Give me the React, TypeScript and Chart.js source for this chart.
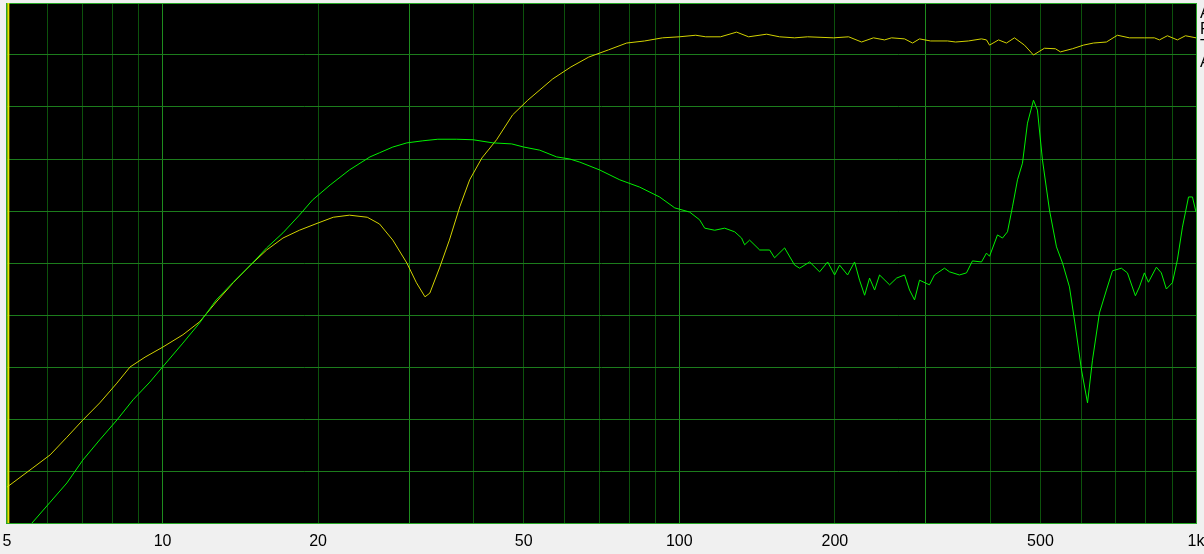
import React, { useEffect, useRef } from "react";
import { Chart, registerables } from "chart.js";

Chart.register(...registerables);

const gridFreqs = [5, 6, 7, 8, 9, 10, 20, 30, 40, 50, 60, 70, 80, 90, 100, 200, 300, 400, 500, 600, 700, 800, 900, 1000];
const tickLabels: Record<number, string> = { 5: "5", 10: "10", 20: "20", 50: "50", 100: "100", 200: "200", 500: "500", 1000: "1k" };
const brightGrid = [10, 30, 100, 300];
const legendLabels = ["A", "F", "T", "A"];
const markerFreq = 5.03;

const yellowFreq = [5.0, 5.61, 6.06, 6.53, 7.01, 7.56, 8.16, 8.65, 9.25, 10.0, 10.95, 11.8, 12.7, 13.7, 14.8, 15.9, 17.1, 18.4, 20.0, 21.4, 23.0, 24.9, 26.3, 27.9, 29.7, 31.0, 32.2, 32.9, 34.4, 35.9, 37.6, 39.3, 41.5, 44.3, 47.6, 50.9, 56.9, 61.7, 66.8, 73.0, 79.1, 85.7, 92.8, 100, 107.6, 112.5, 120.2, 129.1, 136.2, 147.6, 156.3, 167.2, 177.2, 198.9, 212.7, 225.3, 237.6, 249.6, 257.5, 272.9, 282.8, 291.7, 306.3, 330.5, 342.6, 362.8, 384.5, 393.1, 398.5, 414.8, 429.8, 445.3, 465.6, 484.7, 508.9, 534.6, 546.6, 576.6, 605.7, 633.2, 670.9, 704.6, 743.2, 794.5, 830.9, 849.6, 880.3, 920.4, 954.1, 1000];
const yellowLevel = [6.9, 10.6, 13.1, 16.5, 19.8, 23.1, 26.9, 30.0, 31.9, 33.8, 36.2, 38.7, 42.5, 46.2, 49.6, 52.5, 54.8, 56.3, 57.7, 58.8, 59.2, 58.8, 57.5, 54.4, 50.0, 46.2, 43.5, 44.2, 49.2, 54.4, 60.8, 66.0, 70.2, 73.7, 78.5, 81.3, 85.4, 87.7, 89.6, 91.0, 92.3, 92.7, 93.3, 93.5, 93.8, 93.5, 93.5, 94.4, 93.5, 94.0, 93.5, 93.3, 93.5, 93.3, 93.5, 92.5, 93.3, 92.9, 93.3, 93.1, 92.3, 93.1, 92.7, 92.7, 92.5, 92.7, 93.1, 92.9, 91.9, 92.9, 92.3, 93.3, 91.9, 90.0, 91.3, 91.2, 90.6, 91.2, 91.9, 92.3, 92.5, 93.8, 93.3, 93.3, 93.3, 92.9, 93.7, 92.9, 93.7, 93.3];

const greenFreq = [5.3, 5.59, 6.06, 6.53, 7.01, 7.56, 8.16, 8.77, 9.45, 10.0, 10.95, 11.8, 12.7, 13.7, 14.8, 15.9, 17.1, 18.4, 19.5, 21.1, 23.0, 25.2, 26.3, 27.9, 29.7, 31.9, 34.1, 37.1, 39.9, 43.6, 47.4, 50.0, 53.7, 57.9, 61.4, 64.2, 70.1, 76.7, 83.8, 91.6, 98.0, 104.7, 109.5, 112.0, 117.1, 122.4, 128.0, 132.0, 133.8, 136.8, 143.1, 149.6, 152.9, 159.9, 167.2, 171.0, 178.8, 186.9, 193.7, 199.8, 204.3, 211.7, 218.4, 223.3, 228.4, 233.5, 238.8, 244.1, 255.3, 263.4, 272.9, 279.0, 285.3, 291.7, 304.9, 311.8, 326.0, 333.4, 348.5, 359.6, 369.3, 384.5, 393.1, 398.5, 412.9, 422.2, 431.7, 441.4, 451.4, 461.5, 471.9, 484.7, 493.3, 504.5, 520.5, 537.0, 551.6, 569.0, 584.5, 600.4, 616.7, 630.4, 650.4, 670.9, 689.2, 717.2, 736.7, 763.3, 777.2, 794.5, 808.9, 838.2, 856.9, 876.3, 900.1, 920.4, 941.4, 967.2, 984.2, 1000];
const greenLevel = [-2.7, 0, 4.0, 7.7, 12.1, 16.0, 19.8, 23.7, 27.1, 30.0, 34.6, 38.5, 42.9, 46.3, 49.6, 52.9, 55.8, 59.2, 62.1, 65.0, 67.9, 70.4, 71.2, 72.3, 73.1, 73.5, 73.8, 73.8, 73.7, 73.1, 72.9, 72.3, 71.7, 70.4, 70.0, 69.4, 67.9, 66.0, 64.6, 62.7, 60.6, 59.8, 58.3, 56.7, 56.3, 56.7, 56.0, 54.8, 53.5, 54.4, 52.5, 52.5, 51.0, 52.9, 49.6, 49.0, 50.2, 48.3, 50.2, 47.7, 49.6, 47.7, 50.2, 46.7, 43.8, 47.1, 44.8, 47.7, 45.8, 47.1, 47.7, 44.8, 42.9, 46.7, 45.8, 47.7, 49.0, 48.3, 47.7, 48.1, 50.4, 50.2, 51.9, 51.3, 55.4, 54.8, 56.0, 60.8, 66.0, 69.2, 76.9, 81.3, 79.4, 69.8, 60.2, 53.1, 50.0, 45.4, 37.7, 29.4, 23.1, 31.3, 40.4, 44.8, 48.5, 49.0, 48.1, 43.7, 45.4, 48.1, 46.3, 49.2, 48.1, 45.0, 46.2, 50.6, 56.9, 62.7, 62.7, 59.8];

const Y_MIN = 0;
const Y_MAX = 100;
const Y_STEP = 10;

export default function App() {
  const ref = useRef<HTMLCanvasElement | null>(null);

  useEffect(() => {
    document.body.style.margin = "0";
    document.body.style.background = "#f0f0f0";
    const canvas = ref.current;
    if (!canvas) return;

    const framePlugin = {
      id: "frame",
      beforeDraw(chart: any) {
        const { ctx, chartArea: a } = chart;
        ctx.save();
        ctx.fillStyle = "#000000";
        ctx.fillRect(a.left, a.top, a.right - a.left, a.bottom - a.top);
        ctx.restore();
      },
      beforeDatasetsDraw(chart: any) {
        const { ctx, chartArea: a } = chart;
        ctx.save();
        ctx.strokeStyle = "#26a626";
        ctx.lineWidth = 1;
        ctx.strokeRect(a.left - 0.5, a.top + 0.5, a.right - a.left + 1, a.bottom - a.top);
        ctx.restore();
      },
      afterDraw(chart: any) {
        const { ctx } = chart;
        ctx.save();
        ctx.fillStyle = "#000000";
        ctx.font = "16px 'Liberation Sans', Arial, sans-serif";
        ctx.textAlign = "left";
        ctx.textBaseline = "alphabetic";
        legendLabels.forEach((t, i) => {
          ctx.fillText(t, 1200, 18 + i * 16.3);
        });
        ctx.restore();
      },
    };

    const chart = new Chart(canvas, {
      type: "line",
      data: {
        datasets: [
          {
            label: "marker",
            data: [
              { x: markerFreq, y: Y_MIN - 10 },
              { x: markerFreq, y: Y_MAX + 10 },
            ],
            borderColor: "#e6e600",
            borderWidth: 2,
            pointRadius: 0,
          },
          {
            label: "green",
            data: greenFreq.map((f, i) => ({ x: f, y: greenLevel[i] })),
            borderColor: "#00f000",
            borderWidth: 1,
            pointRadius: 0,
            tension: 0,
          },
          {
            label: "yellow",
            data: yellowFreq.map((f, i) => ({ x: f, y: yellowLevel[i] })),
            borderColor: "#d2d200",
            borderWidth: 1,
            pointRadius: 0,
            tension: 0,
          },
        ],
      },
      options: {
        responsive: false,
        animation: false,
        events: [],
        layout: { padding: { left: 7, top: 3, right: 8, bottom: 0 } },
        plugins: { legend: { display: false }, tooltip: { enabled: false } },
        scales: {
          x: {
            type: "logarithmic",
            min: 5,
            max: 1000,
            afterBuildTicks: (s: any) => {
              s.ticks = gridFreqs.map((v) => ({ value: v }));
            },
            afterFit: (s: any) => {
              s.height = 31;
              s.paddingLeft = 0;
              s.paddingRight = 0;
            },
            border: { display: false },
            grid: {
              drawTicks: false,
              lineWidth: 1,
              color: (c: any) => {
                const v = c.tick ? c.tick.value : 0;
                if (brightGrid.includes(v)) return "#1e8c1e";
                return "#0c520c";
              },
            },
            ticks: {
              autoSkip: false,
              maxRotation: 0,
              padding: 9,
              color: "#000000",
              font: { family: "'Liberation Sans', Arial, sans-serif", size: 16 },
              callback: (v: any) => tickLabels[Number(v)] ?? "",
            },
          },
          y: {
            type: "linear",
            min: Y_MIN,
            max: Y_MAX,
            afterFit: (s: any) => {
              s.width = 0;
              s.paddingTop = 0;
              s.paddingBottom = 0;
            },
            border: { display: false },
            grid: { drawTicks: false, color: "#1c7c1c", lineWidth: 1 },
            ticks: { display: false, stepSize: Y_STEP },
          },
        },
      },
      plugins: [framePlugin],
    } as any);

    return () => chart.destroy();
  }, []);

  return (
    <div style={{ width: 1204, height: 554, background: "#f0f0f0", overflow: "hidden" }}>
      <canvas ref={ref} width={1204} height={554} style={{ display: "block" }} />
    </div>
  );
}
